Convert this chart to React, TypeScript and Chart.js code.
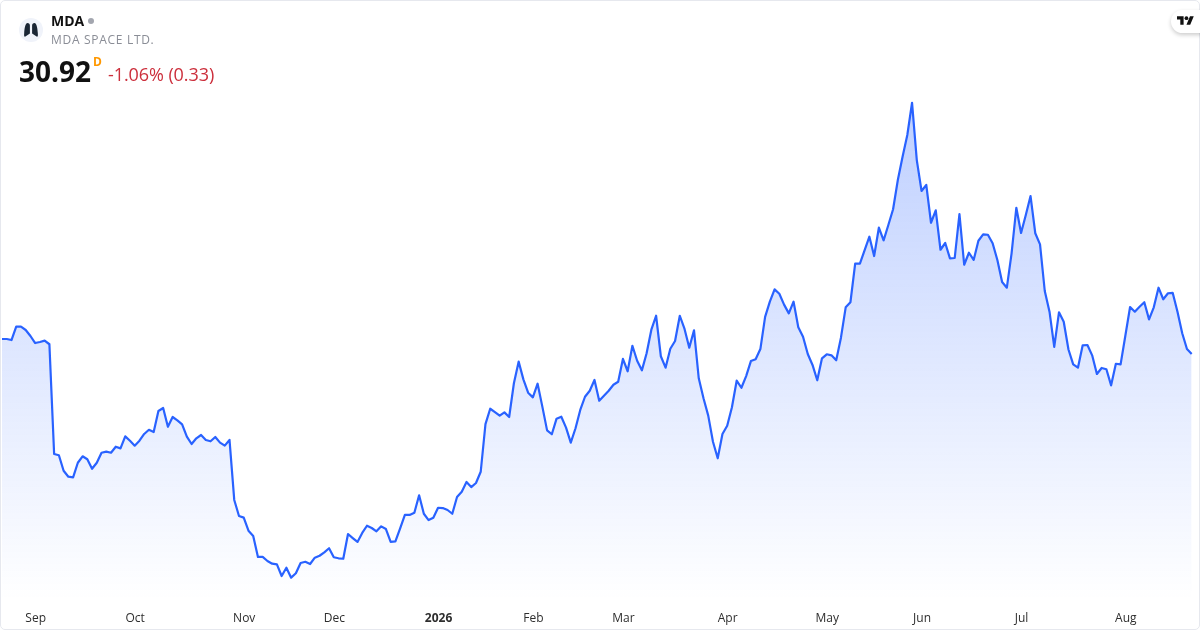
import React, { useEffect, useRef } from "react";
import { Chart, registerables } from "chart.js";

Chart.register(...registerables);

const closes: number[] = [
  31.92, 31.92, 31.85, 32.74, 32.74, 32.52, 32.12, 31.65, 31.72, 31.81, 31.57, 24.25,
  24.17, 23.14, 22.74, 22.70, 23.67, 24.10, 23.90, 23.27, 23.67, 24.34, 24.41, 24.34,
  24.74, 24.63, 25.43, 25.14, 24.81, 25.14, 25.59, 25.87, 25.72, 27.12, 27.32, 26.07,
  26.72, 26.50, 26.23, 25.41, 24.92, 25.30, 25.52, 25.19, 25.10, 25.39, 25.01, 24.81,
  25.19, 21.19, 20.12, 20.01, 19.14, 18.79, 17.39, 17.39, 17.12, 16.94, 16.90, 16.12,
  16.67, 16.01, 16.30, 16.99, 17.07, 16.92, 17.34, 17.47, 17.70, 17.97, 17.37, 17.30,
  17.27, 18.92, 18.65, 18.39, 18.99, 19.47, 19.32, 19.10, 19.43, 19.25, 18.39, 18.43,
  19.30, 20.19, 20.19, 20.34, 21.50, 20.27, 19.85, 20.01, 20.67, 20.65, 20.52, 20.27,
  21.39, 21.74, 22.39, 22.05, 22.32, 23.07, 26.25, 27.27, 27.05, 26.81, 27.03, 26.72,
  28.97, 30.41, 29.23, 28.34, 28.03, 28.94, 27.41, 25.83, 25.57, 26.61, 26.74, 26.01,
  25.01, 25.97, 27.19, 28.07, 28.47, 29.19, 27.81, 28.14, 28.47, 28.87, 29.07, 30.59,
  29.77, 31.47, 30.47, 29.83, 30.97, 32.54, 33.47, 30.77, 30.01, 31.27, 31.79, 33.47,
  32.59, 31.34, 32.50, 29.30, 27.97, 26.81, 25.07, 23.97, 25.59, 26.14, 27.37, 29.14,
  28.67, 29.45, 30.45, 30.57, 31.25, 33.39, 34.41, 35.23, 34.94, 34.21, 33.63, 34.41,
  32.70, 32.07, 30.92, 30.19, 29.17, 30.63, 30.90, 30.83, 30.50, 32.01, 34.03, 34.37,
  36.94, 36.94, 37.85, 38.74, 37.45, 39.34, 38.50, 39.52, 40.57, 42.52, 44.07, 45.52,
  47.67, 43.85, 41.79, 42.19, 39.67, 40.50, 37.87, 38.32, 37.30, 37.32, 40.25, 36.87,
  37.67, 37.19, 38.47, 38.90, 38.87, 38.30, 37.19, 35.72, 35.34, 37.63, 40.67, 38.99,
  40.19, 41.45, 38.97, 38.23, 35.12, 33.74, 31.39, 33.70, 33.07, 31.22, 30.23, 30.01,
  31.50, 31.52, 30.83, 29.59, 29.99, 29.90, 28.83, 30.27, 30.23, 32.14, 34.05, 33.74,
  34.07, 34.37, 33.23, 34.03, 35.34, 34.57, 34.97, 34.99, 33.74, 32.30, 31.25, 30.92,
];

const tickIndices: number[] = [7, 28, 51, 70, 92, 112, 131, 153, 174, 194, 215, 237];
const tickLabels: string[] = ["Sep", "Oct", "Nov", "Dec", "2026", "Feb", "Mar", "Apr", "May", "Jun", "Jul", "Aug"];
const boldTicks: string[] = ["2026"];

const FONT = '"Open Sans", "Noto Sans", sans-serif';

export default function App() {
  const ref = useRef<HTMLCanvasElement | null>(null);

  useEffect(() => {
    document.body.style.margin = "0";
    document.body.style.background = "#fff";
    const canvas = ref.current;
    if (!canvas) return;
    const chart = new Chart(canvas, {
      type: "line",
      data: {
        labels: closes.map((_, i) => String(i)),
        datasets: [
          {
            data: closes,
            borderColor: "#2962FF",
            borderWidth: 2.2,
            pointRadius: 0,
            tension: 0,
            fill: "start",
            borderJoinStyle: "round",
            backgroundColor: (ctx: any) => {
              const { chart: c } = ctx;
              const { ctx: g, chartArea, scales } = c;
              if (!chartArea) return "rgba(41,98,255,0.1)";
              const top = scales.y.getPixelForValue(Math.max(...closes));
              const grad = g.createLinearGradient(0, top, 0, chartArea.bottom);
              grad.addColorStop(0, "rgba(41,98,255,0.3)");
              grad.addColorStop(1, "rgba(41,98,255,0)");
              return grad;
            },
          },
        ],
      },
      options: {
        responsive: false,
        animation: false,
        devicePixelRatio: 1,
        layout: { padding: { left: 2, right: 8.3, top: 0, bottom: 0 } },
        plugins: { legend: { display: false }, tooltip: { enabled: false } },
        scales: {
          x: {
            type: "category",
            offset: false,
            grid: { display: false },
            border: { display: false },
            afterBuildTicks: (scale: any) => {
              scale.ticks = tickIndices.map((value) => ({ value }));
            },
            afterFit: (scale: any) => {
              scale.height = 30;
            },
            ticks: {
              autoSkip: false,
              maxRotation: 0,
              minRotation: 0,
              padding: 3.5,
              labelOffset: 0.5,
              color: "#2e2e2e",
              font: (ctx: any) => {
                const idx = tickIndices.indexOf(ctx.tick?.value);
                return {
                  family: FONT,
                  size: 12,
                  weight: boldTicks.includes(tickLabels[idx]) ? "bold" : "normal",
                };
              },
              callback: (value: any) => tickLabels[tickIndices.indexOf(Number(value))] ?? "",
            },
          },
          y: {
            display: false,
            min: 14.52,
            max: 54.52,
          },
        },
      },
    } as any);
    return () => chart.destroy();
  }, []);

  return (
    <div style={{ position: "fixed", left: 0, top: 0, width: 1200, height: 630, background: "#fff", overflow: "hidden", fontFamily: FONT }}>
      <canvas ref={ref} width={1200} height={630} style={{ position: "absolute", left: 0, top: 0, width: 1200, height: 630, display: "block" }} />
      <div style={{ position: "absolute", left: 0, top: 0, width: 1198, height: 628, border: "1px solid #e6e8ee", borderRadius: 5, pointerEvents: "none" }} />

      <div style={{ position: "absolute", left: 19, top: 18, width: 24, height: 24, borderRadius: 12, background: "#f0f3fa" }}>
        <svg width="24" height="24" viewBox="0 0 24 24" style={{ display: "block" }}>
          <path d="M8.5 5 C10 5 10.9 6 10.9 7.5 L10.9 15.5 L6 18.8 C5 18.8 5 17 5.2 15 C5.4 11 6.3 5 8.5 5 Z" fill="#1a2634" />
          <path d="M15.5 5 C14 5 13.1 6 13.1 7.5 L13.1 15.5 L18 18.8 C19 18.8 19 17 18.8 15 C18.6 11 17.7 5 15.5 5 Z" fill="#1a2634" />
        </svg>
      </div>

      <div style={{ position: "absolute", left: 51, top: 12, fontSize: 14, lineHeight: "18px", fontWeight: 700, color: "#111111" }}>MDA</div>
      <div style={{ position: "absolute", left: 88, top: 18, width: 6, height: 6, borderRadius: 3, background: "#a3a6af" }} />
      <div style={{ position: "absolute", left: 51, top: 32, fontSize: 12, lineHeight: "16px", letterSpacing: 0.7, color: "#8a8d96", whiteSpace: "nowrap" }}>MDA SPACE LTD.</div>

      <div style={{ position: "absolute", left: 19, top: 52, fontSize: 28, lineHeight: "38px", fontWeight: 700, color: "#111111" }}>30.92</div>
      <div style={{ position: "absolute", left: 93, top: 54, fontSize: 12, lineHeight: "15px", fontWeight: 700, color: "#ff9800" }}>D</div>
      <div style={{ position: "absolute", left: 108, top: 61, fontSize: 18, lineHeight: "26px", letterSpacing: -0.08, color: "#cc2f3c", whiteSpace: "nowrap" }}>-1.06% (0.33)</div>

      <div style={{ position: "absolute", left: 1171, top: 10, width: 40, height: 23, borderRadius: 12, background: "#fff", boxShadow: "0 2px 4px rgba(0,0,0,0.2)" }}>
        <svg width="17" height="9" viewBox="0 4 36 18" style={{ position: "absolute", left: 6, top: 6 }}>
          <path d="M14 22H7V11H0V4h14v18zM28 22h-8l7.5-18h8L28 22z" fill="#111111" />
          <circle cx="20" cy="8" r="4" fill="#111111" />
        </svg>
      </div>
    </div>
  );
}
